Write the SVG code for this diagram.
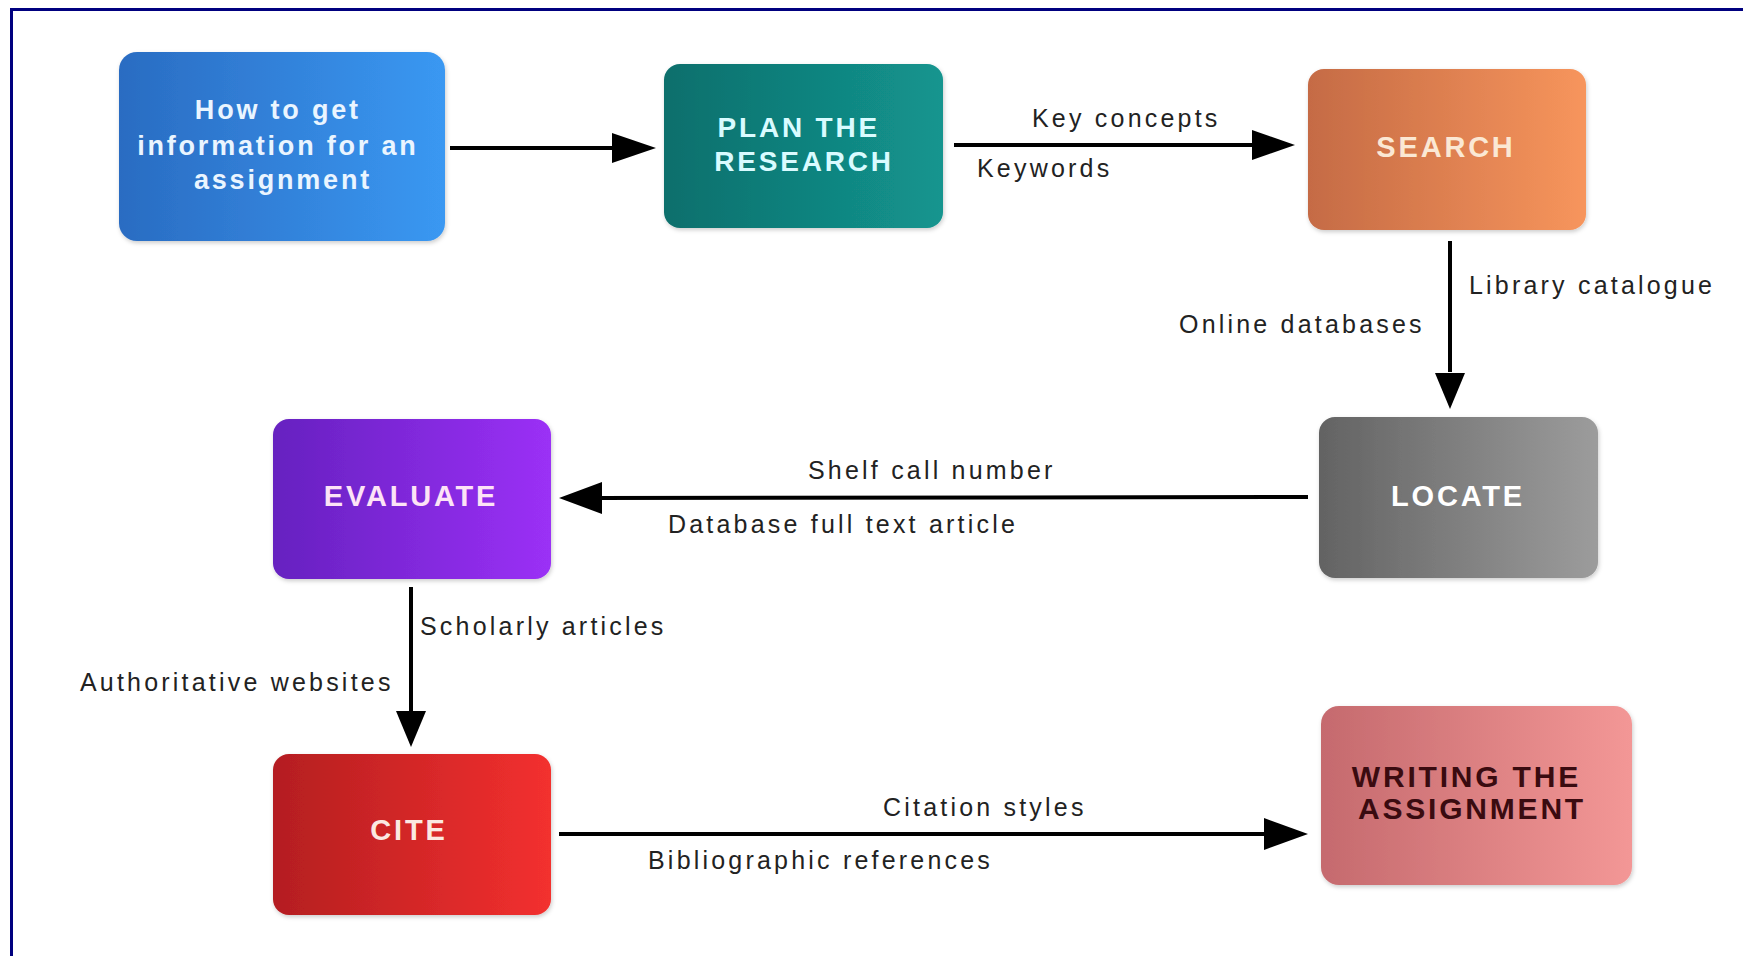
<svg xmlns="http://www.w3.org/2000/svg" width="1743" height="956" viewBox="0 0 1743 956">
  <style>
    .frame { stroke: #00007f; stroke-width: 3; fill: none; }
    .box { filter: url(#soft); }
    .ntext { font-family: "Liberation Sans", Arial, sans-serif; font-weight: bold; text-anchor: middle; letter-spacing: 2.8px; }
    .lbl { font-family: "Liberation Sans", Arial, sans-serif; font-size: 25px; fill: #222; letter-spacing: 3.2px; }
    .edge { stroke: #000; stroke-width: 4; fill: none; }
    .head { fill: #000; }
  </style>
  <defs>
    <filter id="soft" x="-10%" y="-10%" width="120%" height="120%">
      <feDropShadow dx="1" dy="2" stdDeviation="2" flood-color="#000" flood-opacity="0.2"/>
    </filter>
    <linearGradient id="gBlue" x1="0" y1="0" x2="1" y2="0">
      <stop offset="0" stop-color="#2a6cc2"/>
      <stop offset="1" stop-color="#3a98f2"/>
    </linearGradient>
    <linearGradient id="gTeal" x1="0" y1="0" x2="1" y2="0">
      <stop offset="0" stop-color="#0d6f6c"/>
      <stop offset="1" stop-color="#13958f"/>
    </linearGradient>
    <linearGradient id="gOrange" x1="0" y1="0" x2="1" y2="0">
      <stop offset="0" stop-color="#c56b45"/>
      <stop offset="1" stop-color="#f7955c"/>
    </linearGradient>
    <linearGradient id="gGray" x1="0" y1="0" x2="1" y2="0">
      <stop offset="0" stop-color="#636363"/>
      <stop offset="1" stop-color="#9c9c9c"/>
    </linearGradient>
    <linearGradient id="gPurple" x1="0" y1="0" x2="1" y2="0">
      <stop offset="0" stop-color="#6621c0"/>
      <stop offset="1" stop-color="#9b30f6"/>
    </linearGradient>
    <linearGradient id="gRed" x1="0" y1="0" x2="1" y2="0">
      <stop offset="0" stop-color="#b41e20"/>
      <stop offset="1" stop-color="#f3302f"/>
    </linearGradient>
    <linearGradient id="gPink" x1="0" y1="0" x2="1" y2="0">
      <stop offset="0" stop-color="#c56a6e"/>
      <stop offset="1" stop-color="#f39796"/>
    </linearGradient>
  </defs>

  <rect width="1743" height="956" fill="#fff"/>

  <!-- outer frame: top and left edges -->
  <line class="frame" x1="10" y1="9.5" x2="1743" y2="9.5"/>
  <line class="frame" x1="11.5" y1="8" x2="11.5" y2="956"/>

  <!-- connectors -->
  <g id="connectors">
    <line class="edge" x1="450" y1="148" x2="620" y2="148"/>
    <polygon class="head" points="656,148 612,133 612,163"/>

    <line class="edge" x1="954" y1="145" x2="1258" y2="145"/>
    <polygon class="head" points="1295,145 1252,130 1252,160"/>

    <line class="edge" x1="1450" y1="241" x2="1450" y2="372"/>
    <polygon class="head" points="1450,409 1435,373 1465,373"/>

    <line class="edge" x1="1308" y1="497" x2="596" y2="498"/>
    <polygon class="head" points="559,498 602,482 602,514"/>

    <line class="edge" x1="411" y1="587" x2="411" y2="712"/>
    <polygon class="head" points="411,747 396,711 426,711"/>

    <line class="edge" x1="559" y1="834" x2="1270" y2="834"/>
    <polygon class="head" points="1308,834 1264,818 1264,850"/>

    <text class="lbl" x="1032" y="127">Key concepts</text>
    <text class="lbl" x="977" y="177">Keywords</text>
    <text class="lbl" x="1469" y="294">Library catalogue</text>
    <text class="lbl" x="1179" y="333">Online databases</text>
    <text class="lbl" x="808" y="479">Shelf call number</text>
    <text class="lbl" x="668" y="533">Database full text article</text>
    <text class="lbl" x="420" y="635">Scholarly articles</text>
    <text class="lbl" x="80" y="691">Authoritative websites</text>
    <text class="lbl" x="883" y="816">Citation styles</text>
    <text class="lbl" x="648" y="869">Bibliographic references</text>
  </g>

  <g id="start">
    <rect class="box" x="119" y="52" width="326" height="189" rx="18" fill="url(#gBlue)"/>
    <text class="ntext" font-size="27" fill="#eaf5ff" letter-spacing="3.6">
      <tspan x="283" y="119">How to get</tspan>
      <tspan x="283" y="155">information for an</tspan>
      <tspan x="283" y="189">assignment</tspan>
    </text>
  </g>

  <g id="plan">
    <rect class="box" x="664" y="64" width="279" height="164" rx="16" fill="url(#gTeal)"/>
    <text class="ntext" font-size="28" fill="#d9fbff">
      <tspan x="804" y="137">PLAN THE</tspan>
      <tspan x="804" y="171">RESEARCH</tspan>
    </text>
  </g>

  <g id="search">
    <rect class="box" x="1308" y="69" width="278" height="161" rx="16" fill="url(#gOrange)"/>
    <text class="ntext" font-size="29" fill="#fbe8d4" x="1446" y="157">SEARCH</text>
  </g>

  <g id="locate">
    <rect class="box" x="1319" y="417" width="279" height="161" rx="16" fill="url(#gGray)"/>
    <text class="ntext" font-size="29" fill="#ffffff" x="1458" y="506">LOCATE</text>
  </g>

  <g id="evaluate">
    <rect class="box" x="273" y="419" width="278" height="160" rx="16" fill="url(#gPurple)"/>
    <text class="ntext" font-size="29" fill="#fde3f6" x="411" y="506">EVALUATE</text>
  </g>

  <g id="cite">
    <rect class="box" x="273" y="754" width="278" height="161" rx="16" fill="url(#gRed)"/>
    <text class="ntext" font-size="29" fill="#fbe9e2" x="409" y="840">CITE</text>
  </g>

  <g id="writing">
    <rect class="box" x="1321" y="706" width="311" height="179" rx="18" fill="url(#gPink)"/>
    <text class="ntext" font-size="30" fill="#3a0b10" letter-spacing="1.8">
      <tspan x="1472" y="787">WRITING THE</tspan>
      <tspan x="1472" y="819">ASSIGNMENT</tspan>
    </text>
  </g>
</svg>
